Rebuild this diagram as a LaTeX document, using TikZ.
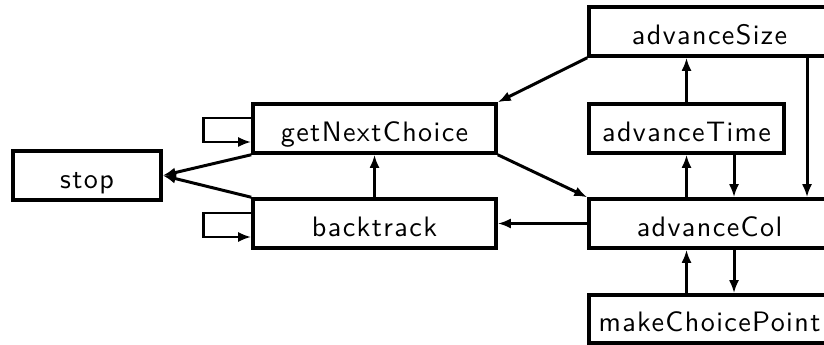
\documentclass[tikz,border=0pt]{standalone}
\usepackage{fontspec}
\setmainfont{lmsans10-regular.otf}[LetterSpace=5]
\usepackage{tikz}
\usetikzlibrary{arrows.meta, calc}

\tikzset{
    proc/.style={draw, line width=2pt, minimum height=0.98cm, text height=0.52cm, text depth=0pt,
        font=\fontsize{16}{18}\selectfont},
    link/.style={line width=1.7pt, -{Latex[length=0.26cm, width=0.2cm]}}
}

\begin{document}
\begin{tikzpicture}[scale=1]
    \useasboundingbox (0, 0) rectangle (16.48, 6.9);

    % Left side
    \node[proc, minimum width=2.96cm] (stop) at (1.74, 3.39) {stop};
    \node[proc, minimum width=4.86cm] (next) at (7.49, 4.33) {getNextChoice};
    \node[proc, minimum width=4.86cm] (back) at (7.49, 2.43) {backtrack};

    % Right side
    \node[proc, minimum width=4.82cm] (size) at (14.19, 6.27) {advanceSize};
    \node[proc, minimum width=3.90cm] (time) at (13.73, 4.33) {advanceTime};
    \node[proc, minimum width=4.82cm] (col) at (14.19, 2.43) {advanceCol};
    \node[proc, minimum width=4.82cm, minimum height=0.96cm] (make) at (14.19, 0.52) {makeChoicePoint};

    % Links between the two sides
    \draw[link] (size.south west) -- (next.north east);
    \draw[link] (next.south east) -- (col.north west);
    \draw[link] (col.west) -- (back.east);
    \draw[link] (back.north) -- (next.south);
    \draw[link] (next.south west) -- (stop.east);
    \draw[link] (back.north west) -- (stop.east);

    % Self loops
    \draw[link] ([yshift=0.21cm]next.west) -- ++(-0.96, 0) |- ([yshift=-0.27cm]next.west);
    \draw[link] ([yshift=0.21cm]back.west) -- ++(-0.96, 0) |- ([yshift=-0.27cm]back.west);

    % Column on the right
    \draw[link] (time.north) -- (time.north |- size.south);
    \draw[link] (time.south |- col.north) -- (time.south);
    \draw[link] ([xshift=0.95cm]time.south) -- ([xshift=0.95cm]time.south |- col.north);
    \draw[link] ([xshift=1.95cm]size.south) -- ([xshift=1.95cm]size.south |- col.north);
    \draw[link] (time.south |- make.north) -- (time.south |- col.south);
    \draw[link] ([xshift=0.95cm]time.south |- col.south) -- ([xshift=0.95cm]time.south |- make.north);
\end{tikzpicture}
\end{document}
